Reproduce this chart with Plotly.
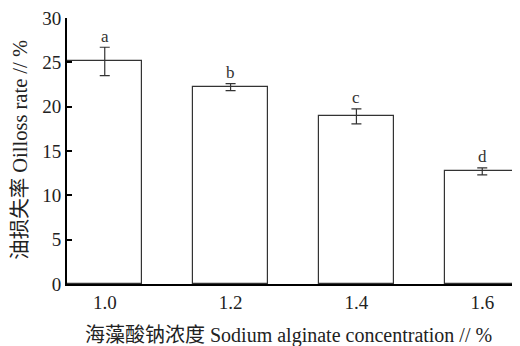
import plotly.graph_objects as go

categories = ["1.0", "1.2", "1.4", "1.6"]
oil_loss = [25.1, 22.2, 18.9, 12.7]
errors = [1.6, 0.4, 0.85, 0.4]
letters = ["a", "b", "c", "d"]
y_ticks = [0, 5, 10, 15, 20, 25, 30]

FONT = "Liberation Serif, Noto Sans CJK SC, serif"
x_pos = list(range(len(categories)))

fig = go.Figure()
fig.add_trace(go.Bar(
    x=x_pos, y=oil_loss, width=0.595,
    marker=dict(color="white", line=dict(color="#333333", width=1.2)),
    error_y=dict(type="data", array=errors, visible=True, color="#333333",
                 thickness=1.2, width=5),
    showlegend=False,
))
for xi, v, e, t in zip(x_pos, oil_loss, errors, letters):
    fig.add_annotation(x=xi, y=v + e, text=t, showarrow=False, yshift=11,
                       font=dict(family=FONT, size=17, color="#333333"))

fig.add_annotation(xref="paper", yref="paper", x=0.49, y=-0.192,
                   xanchor="center", yanchor="middle", showarrow=False,
                   text="海藻酸钠浓度 Sodium alginate concentration // %",
                   font=dict(family=FONT, size=20, color="#222222"))
fig.add_annotation(xref="paper", yref="paper", x=-0.104, y=0.504,
                   xanchor="center", yanchor="middle", showarrow=False,
                   textangle=-90,
                   text="油损失率 Oilloss rate // %",
                   font=dict(family=FONT, size=20.5, color="#222222"))

fig.update_layout(
    width=512, height=338,
    margin=dict(l=59, r=0, t=10, b=62),
    plot_bgcolor="white", paper_bgcolor="white",
    font=dict(family=FONT, color="#222222"),
    bargap=0,
)
fig.update_xaxes(
    range=[-0.3, 3.3], tickvals=x_pos, ticktext=categories,
    showline=True, linecolor="black", linewidth=2, showgrid=False,
    ticks="", tickfont=dict(size=19, family=FONT), automargin=False,
    ticklabeloverflow="allow",
)
fig.update_yaxes(
    range=[0, 30], tickvals=y_ticks,
    showline=True, linecolor="black", linewidth=2, showgrid=False,
    ticks="inside", ticklen=5, tickwidth=2, tickcolor="black",
    tickfont=dict(size=19, family=FONT), zeroline=False, automargin=False,
    ticklabeloverflow="allow",
)
fig.write_html("out.html")
